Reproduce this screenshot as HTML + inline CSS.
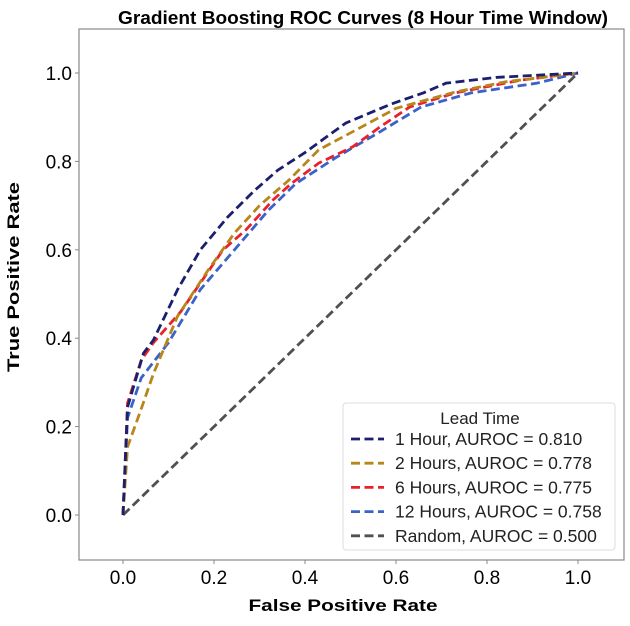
<!DOCTYPE html>
<html><head><meta charset="utf-8"><style>
body{margin:0;background:#fff;}
svg text{font-family:"Liberation Sans","DejaVu Sans",sans-serif;}
</style></head><body>
<svg id="chart" width="630" height="621" viewBox="0 0 630 621" xmlns="http://www.w3.org/2000/svg">
<rect width="630" height="621" fill="#fff"/>
<text x="363" y="24" text-anchor="middle" font-size="18" font-weight="bold" fill="#000" textLength="490" lengthAdjust="spacingAndGlyphs">Gradient Boosting ROC Curves (8 Hour Time Window)</text>
<rect x="79" y="29" width="545" height="531" fill="none" stroke="#888" stroke-width="1.2"/>
<g id="ticks"></g>
<g id="series"></g>
<text x="343" y="611" text-anchor="middle" font-size="17" font-weight="bold" textLength="189" lengthAdjust="spacingAndGlyphs">False Positive Rate</text>
<text transform="translate(19,277) rotate(-90)" text-anchor="middle" font-size="17" font-weight="bold" textLength="190" lengthAdjust="spacingAndGlyphs">True Positive Rate</text>
<g>
<rect x="343" y="403" width="272" height="147" fill="#fff" stroke="#ddd" rx="3"/>
<text x="480" y="424" text-anchor="middle" font-size="17" fill="#222">Lead Time</text>
<g id="legend-items"></g>
</g>
</svg>
<script>
const fprOneHour=[0,0.01,0.045,0.067,0.12,0.17,0.23,0.29,0.34,0.40,0.44,0.49,0.59,0.66,0.71,0.82,1];
const tprOneHour=[0,0.244,0.366,0.396,0.51,0.60,0.674,0.735,0.78,0.82,0.85,0.887,0.93,0.955,0.977,0.99,1];
const fprTwoHours=[0,0.01,0.04,0.067,0.12,0.187,0.245,0.30,0.365,0.43,0.51,0.60,0.73,0.84,1];
const tprTwoHours=[0,0.154,0.24,0.32,0.45,0.554,0.638,0.70,0.758,0.826,0.87,0.92,0.957,0.98,1];
const fprSixHours=[0,0.01,0.04,0.067,0.127,0.22,0.27,0.33,0.37,0.43,0.505,0.565,0.63,0.73,0.875,1];
const tprSixHours=[0,0.253,0.35,0.39,0.46,0.60,0.645,0.713,0.75,0.796,0.833,0.878,0.923,0.955,0.984,1];
const fprTwelveHours=[0,0.01,0.04,0.10,0.17,0.245,0.32,0.38,0.47,0.56,0.655,0.765,0.91,1];
const tprTwelveHours=[0,0.22,0.31,0.39,0.51,0.60,0.69,0.75,0.81,0.864,0.923,0.955,0.977,1];
const fprRandom=[0,1];
const tprRandom=[0,1];
const seriesNames=["one-hour","two-hours","six-hours","twelve-hours","random"];
const seriesLabels=["1 Hour, AUROC = 0.810","2 Hours, AUROC = 0.778","6 Hours, AUROC = 0.775","12 Hours, AUROC = 0.758","Random, AUROC = 0.500"];
const tickValues=[0,0.2,0.4,0.6,0.8,1.0];
const tickLabels=["0.0","0.2","0.4","0.6","0.8","1.0"];
const colors=["#1a1f6e","#b8861b","#e8222a","#3b62c9","#505050"];
const NS="http://www.w3.org/2000/svg";
const sx=v=>123+v*455, sy=v=>515-v*442;
const tg=document.getElementById('ticks');
tickValues.forEach((v,i)=>{
 let t=document.createElementNS(NS,'text');
 
 
 t.setAttribute('x',sx(v));t.setAttribute('y',584);t.setAttribute('text-anchor','middle');t.setAttribute('font-size','19');t.textContent=tickLabels[i];tg.appendChild(t);
 let u=document.createElementNS(NS,'text');
 
 
 u.setAttribute('x',72);u.setAttribute('y',sy(v)+7);u.setAttribute('text-anchor','end');u.setAttribute('font-size','19');u.textContent=tickLabels[i];tg.appendChild(u);
 let l=document.createElementNS(NS,'line');
 
 
 l.setAttribute('x1',sx(v));l.setAttribute('x2',sx(v));l.setAttribute('y1',560);l.setAttribute('y2',564);l.setAttribute('stroke','#888');tg.appendChild(l);
 let m=document.createElementNS(NS,'line');
 
 
 m.setAttribute('x1',75);m.setAttribute('x2',79);m.setAttribute('y1',sy(v));m.setAttribute('y2',sy(v));m.setAttribute('stroke','#888');tg.appendChild(m);
});
const xs=[fprOneHour,fprTwoHours,fprSixHours,fprTwelveHours,fprRandom];
const ys=[tprOneHour,tprTwoHours,tprSixHours,tprTwelveHours,tprRandom];
const sg=document.getElementById('series');
[4,3,2,1,0].forEach(i=>{
 let p=document.createElementNS(NS,'polyline');
 
 
 p.setAttribute('points',xs[i].map((x,j)=>sx(x)+','+sy(ys[i][j])).join(' '));
 p.setAttribute('fill','none');p.setAttribute('stroke',colors[i]);p.setAttribute('stroke-width','2.8');p.setAttribute('stroke-dasharray','9,4.5');
 sg.appendChild(p);
});
const lg=document.getElementById('legend-items');
seriesLabels.forEach((s,i)=>{
 const y=439+i*24.2;
 let l=document.createElementNS(NS,'line');
 
 
 l.setAttribute('x1',351);l.setAttribute('x2',384);l.setAttribute('y1',y);l.setAttribute('y2',y);l.setAttribute('stroke',colors[i]);l.setAttribute('stroke-width','2.8');l.setAttribute('stroke-dasharray','9,4.5');lg.appendChild(l);
 let t=document.createElementNS(NS,'text');
 
 
 t.setAttribute('x',395);t.setAttribute('y',y+6);t.setAttribute('font-size','17.5');t.setAttribute('fill','#222');t.textContent=s;lg.appendChild(t);
});
</script>
</body></html>
